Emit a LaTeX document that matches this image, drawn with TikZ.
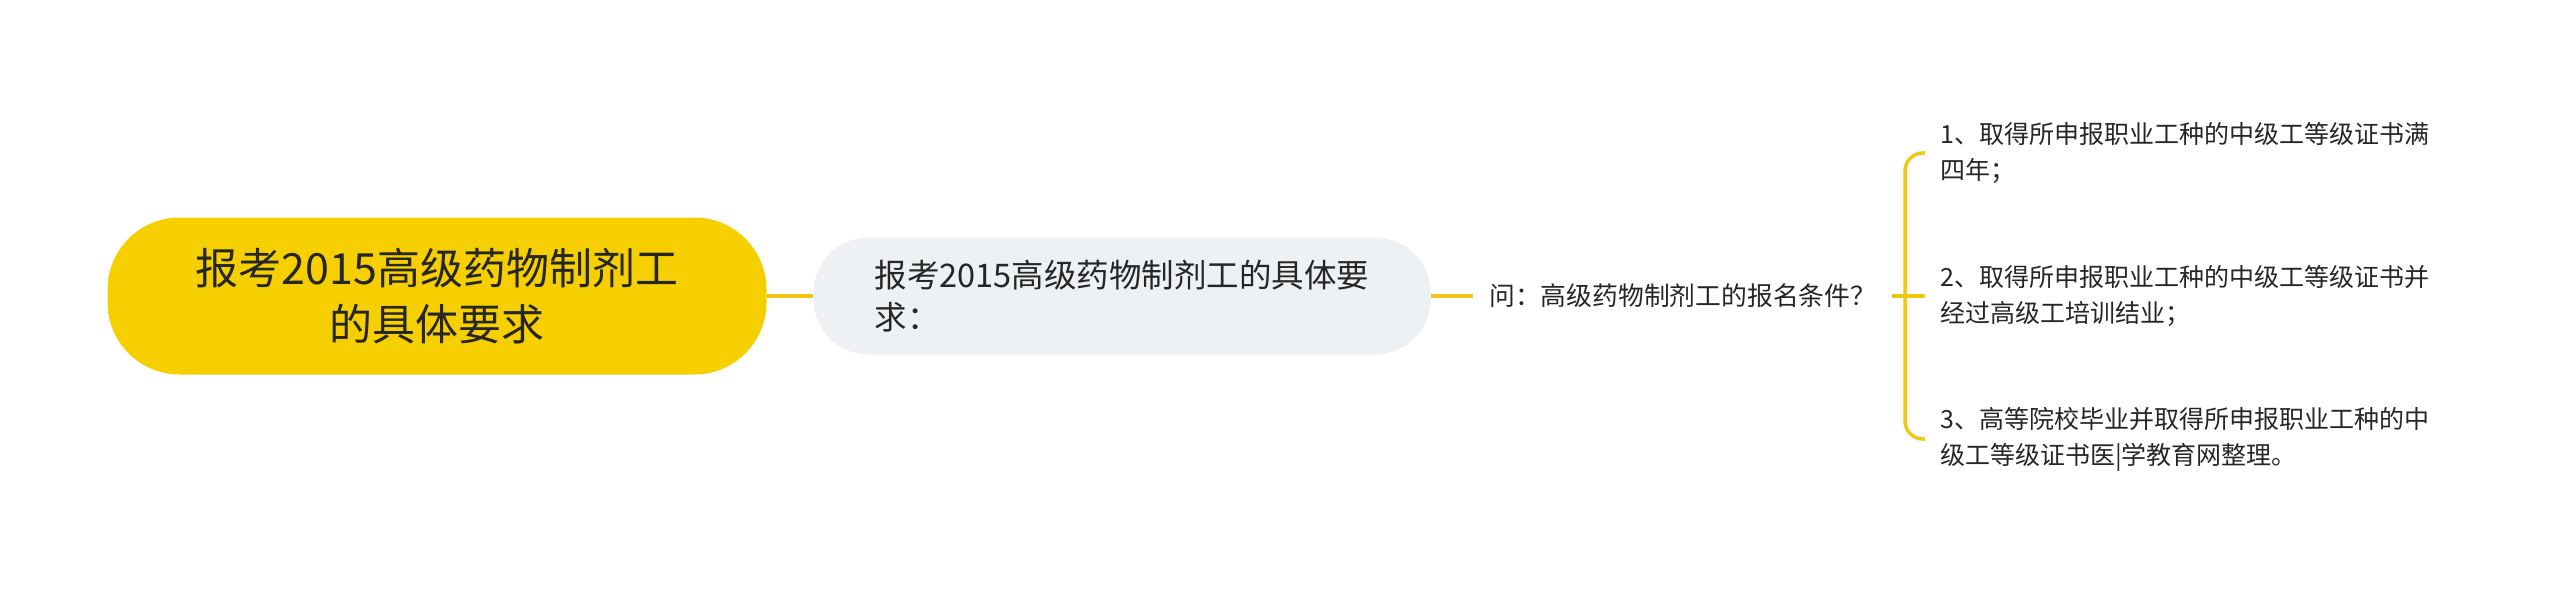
\documentclass[tikz,border=0pt]{standalone}
\usepackage{fontspec}
\setmainfont{Noto Sans CJK SC}
\usetikzlibrary{positioning}
\definecolor{mapyellow}{HTML}{F5CF00}
\definecolor{mapline}{HTML}{F0C814}
\definecolor{mapgray}{HTML}{EEF1F4}
\definecolor{maptext}{HTML}{262626}

\begin{document}
\begin{tikzpicture}[x=1pt, y=-1pt,
    rootbox/.style={fill=mapyellow, rounded corners=72pt, minimum width=659pt, minimum height=157pt,
        align=center, text=maptext, font=\fontsize{43}{56}\selectfont},
    subbox/.style={fill=mapgray, rounded corners=55pt, minimum width=617pt, minimum height=117pt,
        align=left, text=maptext, font=\fontsize{32.5}{42}\selectfont},
    qtext/.style={inner sep=16pt, text=maptext, font=\fontsize{25.8}{36}\selectfont},
    leaftext/.style={anchor=west, inner sep=0pt, align=left, text=maptext, font=\fontsize{25}{36}\selectfont},
    link/.style={draw=mapline, line width=3.5pt}
]
    \useasboundingbox (0,0) rectangle (2560,591);

    \node[rootbox] (root) at (437,296) {报考2015高级药物制剂工\\的具体要求};
    \node[subbox] (req) at (1122,296) {报考2015高级药物制剂工的具体要\\求：};
    \node[qtext, anchor=west] (ask) at (1473,296) {问：高级药物制剂工的报名条件？};

    \coordinate (top) at (1925,153);
    \coordinate (mid) at (1925,296);
    \coordinate (bot) at (1925,439);

    \node[leaftext, right=15pt of top] (one) {1、取得所申报职业工种的中级工等级证书满\\四年；};
    \node[leaftext, right=15pt of mid] (two) {2、取得所申报职业工种的中级工等级证书并\\经过高级工培训结业；};
    \node[leaftext, right=15pt of bot] (three) {3、高等院校毕业并取得所申报职业工种的中\\级工等级证书医|学教育网整理。};

    \draw[link] (root) -- (req);
    \draw[link] (req) -- (ask);
    \draw[link] (ask) -- (mid);
    \draw[link, rounded corners=18pt] (top) -- (1905,153) -- (1905,439) -- (bot);
\end{tikzpicture}
\end{document}
